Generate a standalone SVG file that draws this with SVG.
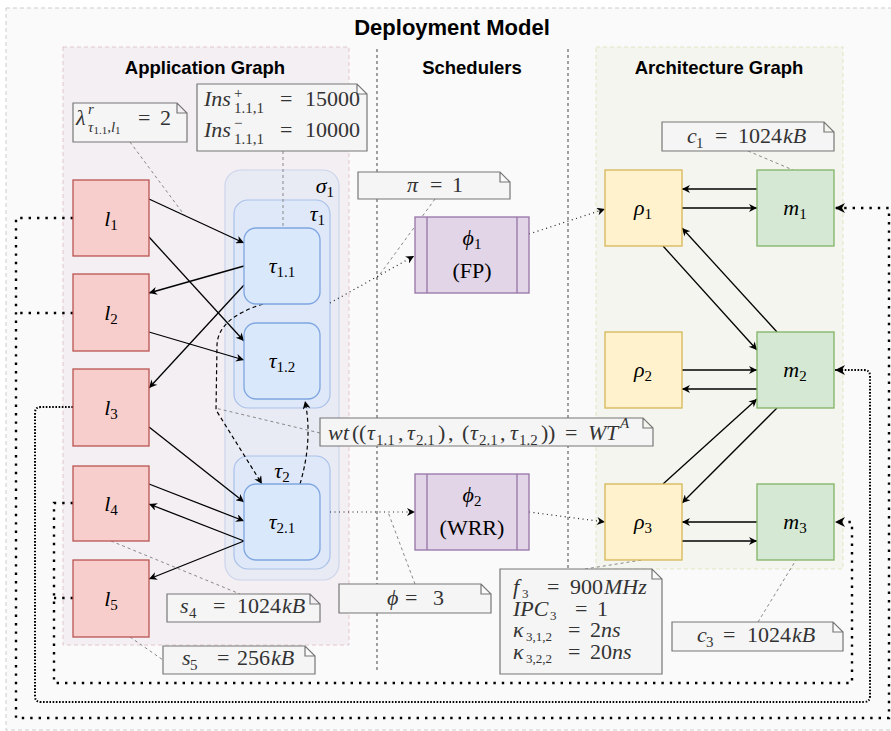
<svg xmlns="http://www.w3.org/2000/svg" width="891" height="731" viewBox="0 0 891 731">
<style>
.h{font-family:'Liberation Sans',Arial,sans-serif;font-weight:bold;fill:#000}
.t{font-family:'Liberation Serif','Times New Roman',Times,'DejaVu Serif',serif;font-size:22px;fill:#000}
.nt{fill:#333}
.i{font-style:italic}
.n{font-style:normal}
.s{font-size:15px}
.s2{font-size:13px}
.ss{font-size:11px}
.lnode{fill:#f8cecc;stroke:#b85450;stroke-width:1.3}
.tnode{fill:#dae8fc;stroke:#7ea6e0;stroke-width:1.3}
.tcont{fill:#dfe8f8;stroke:#a9c1e8;stroke-width:1.2}
.scont{fill:#e8eaf4;stroke:#ccd5ea;stroke-width:1.2}
.pnode{fill:#fff2cc;stroke:#d6b656;stroke-width:1.3}
.mnode{fill:#d5e8d4;stroke:#82b366;stroke-width:1.3}
.snode{fill:#e1d5e7;stroke:#9673a6;stroke-width:1.3}
.note{fill:#f5f5f5;stroke:#777;stroke-width:1.2}
.e{fill:none;stroke:#000;stroke-width:1.3}
.ed{fill:none;stroke:#000;stroke-width:1.2;stroke-dasharray:4 3}
.eo{fill:none;stroke:#222;stroke-width:1.2;stroke-dasharray:1 3.5}
.nc{fill:none;stroke:#888;stroke-width:1;stroke-dasharray:3 3}
.big{fill:none;stroke:#000;stroke-width:2.4;stroke-dasharray:2.4 6}
.dense{fill:none;stroke:#000;stroke-width:2;stroke-dasharray:1.6 1.6}
</style>
<defs>
<marker id="a" viewBox="0 0 10 10" refX="10" refY="5" markerWidth="10" markerHeight="8" markerUnits="userSpaceOnUse" orient="auto"><path d="M0,0 L10,5 L0,10 L3,5 Z" fill="#000"/></marker>
<marker id="ab" viewBox="0 0 10 10" refX="10" refY="5" markerWidth="12" markerHeight="10" markerUnits="userSpaceOnUse" orient="auto"><path d="M0,0 L10,5 L0,10 L3,5 Z" fill="#000"/></marker>
</defs>

<g id="background">
<rect x="6" y="8" width="900" height="722" fill="#fafafa" stroke="#cccccc" stroke-dasharray="4 3"/>
<text class="h" x="452" y="35" font-size="22" text-anchor="middle">Deployment Model</text>
<rect x="63" y="47" width="286" height="598" fill="#f3eff3" stroke="#e2c6cf" stroke-dasharray="4 3"/>
<text class="h" x="205" y="74" font-size="18.5" text-anchor="middle">Application Graph</text>
<rect x="596" y="47" width="247" height="522" fill="#f4f5ee" stroke="#e0e6c4" stroke-dasharray="4 3"/>
<text class="h" x="719" y="74" font-size="18.5" text-anchor="middle">Architecture Graph</text>
<text class="h" x="472" y="74" font-size="18.5" text-anchor="middle">Schedulers</text>
<line x1="377" y1="49" x2="377" y2="672" stroke="#444" stroke-dasharray="3 3"/>
<line x1="568" y1="49" x2="568" y2="569" stroke="#444" stroke-dasharray="3 3"/>
</g>

<g id="sigma1">
<rect class="scont" x="225" y="170" width="114" height="410" rx="16"/>
<text class="t i" x="334" y="193" text-anchor="end">σ<tspan class="s n" dy="4">1</tspan></text>
</g>
<g id="tau1">
<rect class="tcont" x="234" y="200" width="96" height="208" rx="14"/>
<text class="t i" x="325" y="221" text-anchor="end">τ<tspan class="s n" dy="4">1</tspan></text>
</g>
<g id="tau2">
<rect class="tcont" x="234" y="456" width="96" height="113" rx="14"/>
<text class="t i" x="282" y="478" text-anchor="middle">τ<tspan class="s n" dy="4">2</tspan></text>
</g>

<g id="note-connectors">
<path class="nc" d="M130,142 L185,216"/>
<path class="nc" d="M283,151 L283,228"/>
<path class="nc" d="M435,199 L375,281"/>
<path class="nc" d="M320,433 L215,408"/>
<path class="nc" d="M415,584 L388,512"/>
<path class="nc" d="M585,569 L642,560"/>
<path class="nc" d="M111,541 L240,594"/>
<path class="nc" d="M130,637 L163,660"/>
<path class="nc" d="M748,151 L793,170"/>
<path class="nc" d="M758,622 L796,560"/>
</g>

<g id="connectors">
<path class="e" marker-end="url(#a)" d="M149,199 L244,243"/>
<path class="e" marker-end="url(#a)" d="M149,237 L244,341"/>
<path class="e" marker-end="url(#a)" d="M244,266 L149,293"/>
<path class="e" marker-end="url(#a)" d="M244,285 L149,388"/>
<path class="e" marker-end="url(#a)" d="M149,332 L244,360"/>
<path class="e" marker-end="url(#a)" d="M149,427 L244,502"/>
<path class="e" marker-end="url(#a)" d="M149,484 L244,521"/>
<path class="e" marker-end="url(#a)" d="M244,541 L149,504"/>
<path class="e" marker-end="url(#a)" d="M244,541 L149,579"/>
<path class="ed" marker-end="url(#a)" d="M263,304 Q218,318 217,345 L216,410 L262,484"/>
<path class="ed" marker-end="url(#a)" d="M300,484 Q313,440 305,401"/>
<path class="eo" marker-end="url(#a)" d="M330,303 L414,256"/>
<path class="eo" marker-end="url(#a)" d="M529,234 L605,209"/>
<path class="eo" marker-end="url(#a)" d="M330,512 L415,512"/>
<path class="eo" marker-end="url(#a)" d="M529,512 L605,522"/>
<path class="e" marker-end="url(#a)" d="M757,189 L682,189"/>
<path class="e" marker-end="url(#a)" d="M682,208 L757,208"/>
<path class="e" marker-end="url(#a)" d="M663,246 L757,350"/>
<path class="e" marker-end="url(#a)" d="M777,332 L682,228"/>
<path class="e" marker-end="url(#a)" d="M682,370 L757,370"/>
<path class="e" marker-end="url(#a)" d="M757,389 L682,389"/>
<path class="e" marker-end="url(#a)" d="M663,484 L757,399"/>
<path class="e" marker-end="url(#a)" d="M777,408 L682,503"/>
<path class="e" marker-end="url(#a)" d="M757,522 L682,522"/>
<path class="e" marker-end="url(#a)" d="M682,541 L757,541"/>
<path class="big" marker-end="url(#ab)" d="M73,218 H16 V718 H889 V208 H835"/>
<path class="big" d="M73,313 H16"/>
<path class="dense" marker-end="url(#ab)" d="M73,407 H41 Q35,407 35,413 V696 Q35,702 41,702 H864 Q870,702 870,696 V376 Q870,370 864,370 H835"/>
<path class="big" marker-end="url(#ab)" d="M73,503 H54 V683 H852 V522 H835"/>
<path class="big" d="M73,598 H54"/>
</g>

<g id="l1"><rect class="lnode" x="73" y="180" width="76" height="76"/><text class="t i" x="111" y="226" text-anchor="middle">l<tspan class="s n" dy="4">1</tspan></text></g>
<g id="l2"><rect class="lnode" x="73" y="274" width="76" height="77"/><text class="t i" x="111" y="320" text-anchor="middle">l<tspan class="s n" dy="4">2</tspan></text></g>
<g id="l3"><rect class="lnode" x="73" y="369" width="76" height="77"/><text class="t i" x="111" y="415" text-anchor="middle">l<tspan class="s n" dy="4">3</tspan></text></g>
<g id="l4"><rect class="lnode" x="73" y="466" width="76" height="75"/><text class="t i" x="111" y="511" text-anchor="middle">l<tspan class="s n" dy="4">4</tspan></text></g>
<g id="l5"><rect class="lnode" x="73" y="560" width="76" height="77"/><text class="t i" x="111" y="606" text-anchor="middle">l<tspan class="s n" dy="4">5</tspan></text></g>

<g id="tau11"><rect class="tnode" x="244" y="228" width="76" height="76" rx="12"/><text class="t i" x="282" y="273" text-anchor="middle">τ<tspan class="s n" dy="4">1.1</tspan></text></g>
<g id="tau12"><rect class="tnode" x="244" y="323" width="76" height="76" rx="12"/><text class="t i" x="282" y="368" text-anchor="middle">τ<tspan class="s n" dy="4">1.2</tspan></text></g>
<g id="tau21"><rect class="tnode" x="244" y="484" width="76" height="76" rx="12"/><text class="t i" x="282" y="529" text-anchor="middle">τ<tspan class="s n" dy="4">2.1</tspan></text></g>

<g id="phi1"><rect class="snode" x="415" y="217" width="114" height="76"/><line x1="427" y1="217" x2="427" y2="293" stroke="#9673a6" stroke-width="1.3"/><line x1="517" y1="217" x2="517" y2="293" stroke="#9673a6" stroke-width="1.3"/>
<text class="t i" x="472" y="245" text-anchor="middle">ϕ<tspan class="s n" dy="4">1</tspan></text>
<text class="t" x="472" y="278" text-anchor="middle" font-size="23">(FP)</text></g>
<g id="phi2"><rect class="snode" x="415" y="474" width="114" height="76"/><line x1="427" y1="474" x2="427" y2="550" stroke="#9673a6" stroke-width="1.3"/><line x1="517" y1="474" x2="517" y2="550" stroke="#9673a6" stroke-width="1.3"/>
<text class="t i" x="472" y="502" text-anchor="middle">ϕ<tspan class="s n" dy="4">2</tspan></text>
<text class="t" x="472" y="535" text-anchor="middle" font-size="23">(WRR)</text></g>

<g id="rho1"><rect class="pnode" x="605" y="170" width="77" height="76"/><text class="t i" x="643" y="215" text-anchor="middle">ρ<tspan class="s n" dy="4">1</tspan></text></g>
<g id="rho2"><rect class="pnode" x="605" y="332" width="77" height="76"/><text class="t i" x="643" y="377" text-anchor="middle">ρ<tspan class="s n" dy="4">2</tspan></text></g>
<g id="rho3"><rect class="pnode" x="605" y="484" width="77" height="76"/><text class="t i" x="643" y="529" text-anchor="middle">ρ<tspan class="s n" dy="4">3</tspan></text></g>
<g id="m1"><rect class="mnode" x="757" y="170" width="77" height="76"/><text class="t i" x="795" y="215" text-anchor="middle">m<tspan class="s n" dy="4">1</tspan></text></g>
<g id="m2"><rect class="mnode" x="757" y="332" width="77" height="76"/><text class="t i" x="795" y="377" text-anchor="middle">m<tspan class="s n" dy="4">2</tspan></text></g>
<g id="m3"><rect class="mnode" x="757" y="484" width="77" height="76"/><text class="t i" x="795" y="529" text-anchor="middle">m<tspan class="s n" dy="4">3</tspan></text></g>

<g id="note-lambda">
<path class="note" d="M73,103 H177 L187,113 V142 H73 Z M177,103 V113 H187"/>
<text class="t nt"><tspan class="i" x="76" y="125">λ</tspan><tspan class="i s" x="88" y="114">r</tspan><tspan class="s" x="88" y="132"><tspan class="i">τ</tspan><tspan class="ss" dy="2">1.1</tspan><tspan dy="-2">,</tspan><tspan class="i">l</tspan><tspan class="ss" dy="2">1</tspan></tspan><tspan x="138" y="125">=</tspan><tspan x="160" y="125">2</tspan></text>
</g>
<g id="note-ins">
<path class="note" d="M197,84 H357 L367,94 V151 H197 Z M357,84 V94 H367"/>
<text class="t nt"><tspan class="i" x="204" y="106">Ins</tspan><tspan class="s" x="234" y="98">+</tspan><tspan class="s" x="234" y="113">1.1,1</tspan><tspan x="280" y="106">=</tspan><tspan x="305" y="106">15000</tspan></text>
<text class="t nt"><tspan class="i" x="204" y="137">Ins</tspan><tspan class="s" x="234" y="128">−</tspan><tspan class="s" x="234" y="144">1.1,1</tspan><tspan x="280" y="137">=</tspan><tspan x="305" y="137">10000</tspan></text>
</g>
<g id="note-pi">
<path class="note" d="M358,172 H500 L510,182 V199 H358 Z M500,172 V182 H510"/>
<text class="t nt"><tspan class="i" x="407" y="192">π</tspan><tspan x="430" y="192">=</tspan><tspan x="452" y="192">1</tspan></text>
</g>
<g id="note-wt">
<path class="note" d="M320,418 H643 L653,428 V446 H320 Z M643,418 V428 H653"/>
<text class="t nt"><tspan class="i" x="328" y="440">w</tspan><tspan class="i" x="343" y="440">t</tspan><tspan x="352" y="440">(</tspan><tspan x="359" y="440">(</tspan><tspan class="i" x="367" y="440">τ</tspan><tspan class="s" x="376" y="445">1.1</tspan><tspan x="398" y="440">,</tspan><tspan class="i" x="407" y="440">τ</tspan><tspan class="s" x="416" y="445">2.1</tspan><tspan x="438" y="440">)</tspan><tspan x="448" y="440">,</tspan><tspan x="462" y="440">(</tspan><tspan class="i" x="470" y="440">τ</tspan><tspan class="s" x="479" y="445">2.1</tspan><tspan x="500" y="440">,</tspan><tspan class="i" x="510" y="440">τ</tspan><tspan class="s" x="519" y="445">1.2</tspan><tspan x="541" y="440">)</tspan><tspan x="548" y="440">)</tspan><tspan x="565" y="440">=</tspan><tspan class="i" x="588" y="440">W</tspan><tspan class="i" x="606" y="440">T</tspan><tspan class="i s" x="620" y="428">A</tspan></text>
</g>
<g id="note-phi">
<path class="note" d="M339,584 H481 L491,594 V613 H339 Z M481,584 V594 H491"/>
<text class="t nt"><tspan class="i" x="387" y="605">ϕ</tspan><tspan x="405" y="605">=</tspan><tspan x="433" y="605">3</tspan></text>
</g>
<g id="note-proc">
<path class="note" d="M500,569 H652 L662,579 V674 H500 Z M652,569 V579 H662"/>
<text class="t nt"><tspan class="i" x="513" y="594">f</tspan><tspan class="s2" x="522" y="598">3</tspan><tspan x="547" y="594">=</tspan><tspan x="570" y="594">900</tspan><tspan class="i" x="604" y="594">MHz</tspan></text>
<text class="t nt"><tspan class="i" x="513" y="616">IPC</tspan><tspan class="s2" x="550" y="620">3</tspan><tspan x="575" y="616">=</tspan><tspan x="597" y="616">1</tspan></text>
<text class="t nt"><tspan class="i" x="513" y="637">κ</tspan><tspan class="s2" x="526" y="641">3,1,2</tspan><tspan x="568" y="637">=</tspan><tspan x="590" y="637">2</tspan><tspan class="i" x="601" y="637">ns</tspan></text>
<text class="t nt"><tspan class="i" x="513" y="659">κ</tspan><tspan class="s2" x="526" y="663">3,2,2</tspan><tspan x="568" y="659">=</tspan><tspan x="590" y="659">20</tspan><tspan class="i" x="612" y="659">ns</tspan></text>
</g>
<g id="note-s4">
<path class="note" d="M167,594 H310 L320,604 V622 H167 Z M310,594 V604 H320"/>
<text class="t nt"><tspan class="i" x="180" y="613">s</tspan><tspan class="s" x="189" y="618">4</tspan><tspan x="213" y="613">=</tspan><tspan x="237" y="613">1024</tspan><tspan class="i" x="282" y="613">kB</tspan></text>
</g>
<g id="note-s5">
<path class="note" d="M163,646 H305 L315,656 V674 H163 Z M305,646 V656 H315"/>
<text class="t nt"><tspan class="i" x="182" y="665">s</tspan><tspan class="s" x="190" y="670">5</tspan><tspan x="217" y="665">=</tspan><tspan x="237" y="665">256</tspan><tspan class="i" x="271" y="665">kB</tspan></text>
</g>
<g id="note-c1">
<path class="note" d="M662,122 H824 L834,132 V151 H662 Z M824,122 V132 H834"/>
<text class="t nt"><tspan class="i" x="687" y="143">c</tspan><tspan class="s" x="696" y="148">1</tspan><tspan x="715" y="143">=</tspan><tspan x="738" y="143">1024</tspan><tspan class="i" x="783" y="143">kB</tspan></text>
</g>
<g id="note-c3">
<path class="note" d="M672,622 H833 L843,632 V651 H672 Z M833,622 V632 H843"/>
<text class="t nt"><tspan class="i" x="697" y="642">c</tspan><tspan class="s" x="706" y="647">3</tspan><tspan x="723" y="642">=</tspan><tspan x="747" y="642">1024</tspan><tspan class="i" x="792" y="642">kB</tspan></text>
</g>
</svg>
